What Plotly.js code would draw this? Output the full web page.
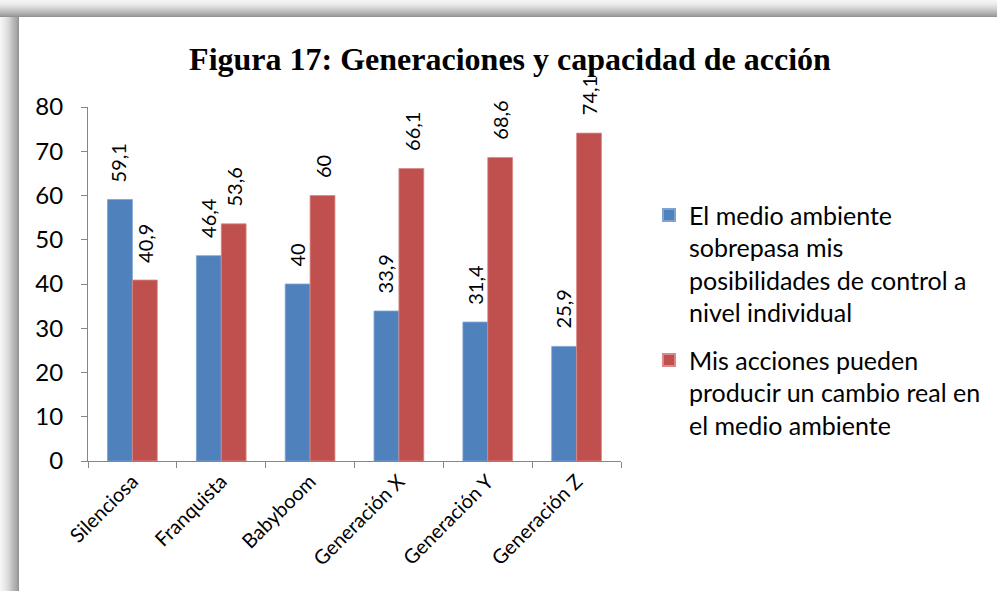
<!DOCTYPE html>
<html>
<head>
<meta charset="utf-8">
<script src="https://cdn.plot.ly/plotly-3.0.1.min.js"></script>
<style>
  html, body { margin: 0; padding: 0; background: #ffffff; }
  #frame {
    position: relative; width: 997px; height: 591px; overflow: hidden;
    background: #ffffff;
  }
  #leftband {
    position: absolute; left: 0; top: 0; width: 19px; height: 591px;
    background: linear-gradient(to right, #f7f7f7 0px, #ececec 4px, #d6d6d6 9px, #bababa 13px, #a4a4a4 17px, #8e8e8e 19px);
  }
  #topband {
    position: absolute; left: 0; top: 0; width: 997px; height: 17px;
    background: linear-gradient(to bottom, #f7f7f7 0px, #ececec 4px, #d6d6d6 8px, #bababa 12px, #a4a4a4 15px, #8e8e8e 17px);
  }
  #chart { position: absolute; left: 19px; top: 17px; width: 978px; height: 574px; }
</style>
</head>
<body>
<div id="frame">
  <div id="leftband"></div>
  <div id="topband"></div>
  <div id="chart"></div>
</div>
<script>
const categories = ["Silenciosa", "Franquista", "Babyboom", "Generación X", "Generación Y", "Generación Z"];
const seriesNames = [
  "El medio ambiente<br>sobrepasa mis<br>posibilidades de control a<br>nivel individual",
  "Mis acciones pueden<br>producir un cambio real en<br>el medio ambiente"
];
const valuesControl = [59.1, 46.4, 40, 33.9, 31.4, 25.9];
const valuesAccion = [40.9, 53.6, 60, 66.1, 68.6, 74.1];
const yTicks = [0, 10, 20, 30, 40, 50, 60, 70, 80];

const colors = ["#4F81BD", "#C0504D"];
const edgeColors = ["#7FA3D1", "#D98A88"];
const fontFam = "Lato, 'Open Sans', sans-serif";

function fmt(v) { return String(v).replace('.', ','); }

const traces = [
  { type: 'bar', x: categories, y: valuesControl, name: seriesNames[0], legendgroup: 'g1',
    marker: { color: colors[0], line: { color: edgeColors[0], width: 0.8 } }, hoverinfo: 'skip' },
  { type: 'bar', x: categories, y: valuesAccion, name: seriesNames[1], legendgroup: 'g2',
    marker: { color: colors[1], line: { color: edgeColors[1], width: 0.8 } }, hoverinfo: 'skip' }
];

const annotations = [];
[valuesControl, valuesAccion].forEach(function (vals, si) {
  vals.forEach(function (v, i) {
    annotations.push({
      x: categories[i], y: v, xref: 'x', yref: 'y',
      text: fmt(v), showarrow: false, textangle: -90,
      xanchor: 'center', yanchor: 'bottom',
      xshift: si === 0 ? -13.5 : 12.5, yshift: 15.5,
      font: { family: fontFam, size: 20, color: '#000000' }
    });
  });
});

const layout = {
  width: 978, height: 574,
  paper_bgcolor: '#ffffff', plot_bgcolor: '#ffffff',
  margin: { l: 69, r: 375, t: 90, b: 129.5, pad: 0 },
  separators: ',.',
  title: {
    text: '<b>Figura 17: Generaciones y capacidad de acción</b>',
    font: { family: "'Liberation Serif', 'Times New Roman', serif", size: 32, color: '#000000' },
    x: 0.502, xanchor: 'center', xref: 'container',
    y: 0.928, yanchor: 'middle', yref: 'container'
  },
  barmode: 'group', bargap: 0.44, bargroupgap: 0,
  xaxis: {
    type: 'category', tickangle: -45,
    showline: true, linecolor: '#868686', linewidth: 1,
    ticks: 'outside', tickson: 'boundaries', ticklen: 6, tickcolor: '#868686',
    tickfont: { family: fontFam, size: 20, color: '#000000' },
    showgrid: false, zeroline: false, automargin: false
  },
  yaxis: {
    range: [0, 80], tickvals: yTicks, ticktext: yTicks.map(String),
    showline: true, linecolor: '#868686', linewidth: 1,
    ticks: 'outside', ticklen: 6, tickcolor: '#868686',
    ticklabelstandoff: 13,
    tickfont: { family: fontFam, size: 24, color: '#000000' },
    showgrid: false, zeroline: false, automargin: false
  },
  showlegend: true,
  legend: {
    x: 1.0506, xanchor: 'left', y: 0.759, yanchor: 'top',
    valign: 'top', bgcolor: 'rgba(0,0,0,0)',
    font: { family: fontFam, size: 25, color: '#000000' },
    tracegroupgap: 12, itemsizing: 'constant'
  },
  annotations: annotations
};

Plotly.newPlot('chart', traces, layout, { displayModeBar: false, staticPlot: true });
</script>
</body>
</html>
